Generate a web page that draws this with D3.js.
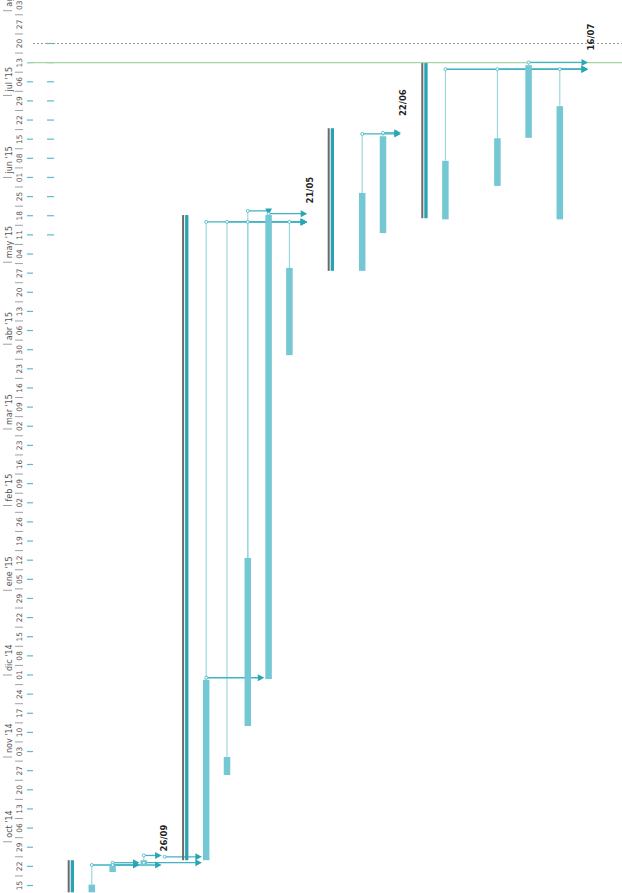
<!DOCTYPE html>
<html>
<head>
<meta charset="utf-8">
<script src="https://cdn.jsdelivr.net/npm/d3@7/dist/d3.min.js"></script>
<style>
  body { margin: 0; background: #fff; }
  svg { display: block; }
  text { font-family: "DejaVu Sans", sans-serif; }
</style>
</head>
<body>
<div id="chart"></div>
<script>
// gantt rows (the chart is turned on its side: time runs bottom -> top)
const taskIds   = ["g1","t2","t3","t4","m1","g2","t7","t8","t9","t10","t11","m2","g3","t14","t15","m3","g4","t18","t19","t20","t21","m4"];
const taskKind  = ["group","task","task","task","milestone","group","task","task","task","task","task","milestone","group","task","task","milestone","group","task","task","task","task","milestone"];
const taskRow   = [0, 2, 4, 7, 9, 11, 13, 15, 17, 19, 21, 23, 25, 28, 30, 32, 34, 36, 41, 44, 47, 50];
const taskLabel = ["","","","","26/09","","","","","","","21/05","","","","22/06","","","","","","16/07"];
const taskStart = ["2014-09-12 12:00","2014-09-12 12:00","2014-09-19 22:00","2014-09-22 02:00","2014-09-26 00:00",
                   "2014-09-24 06:00","2014-09-24 06:00","2014-10-25 10:00","2014-11-12 08:00","2014-11-29 12:00","2015-03-28 00:00","2015-05-21 00:00",
                   "2015-04-27 20:00","2015-04-27 20:00","2015-05-11 16:00","2015-06-22 00:00",
                   "2015-05-17 02:00","2015-05-16 16:00","2015-05-28 22:00","2015-06-15 12:00","2015-05-16 16:00","2015-07-16 00:00"];
const taskEnd   = ["2014-09-24 06:00","2014-09-15 08:00","2014-09-22 12:00","2014-09-24 06:00","2014-09-26 00:00",
                   "2015-05-18 06:00","2014-11-29 06:00","2014-11-01 00:00","2015-01-12 20:00","2015-05-18 06:00","2015-04-28 22:00","2015-05-21 00:00",
                   "2015-06-19 00:00","2015-05-26 08:00","2015-06-16 02:00","2015-06-22 00:00",
                   "2015-07-12 20:00","2015-06-07 02:00","2015-06-15 08:00","2015-07-12 02:00","2015-06-27 02:00","2015-07-16 00:00"];

// dependencies
const linkFrom = ["t2","t3","t3","t4","m1","t4","t7","t7","t8","t9","t11","t9","t10","t14","t15","t18","t19","t21","t20"];
const linkTo   = ["t4","t4","m1","m1","t7","t7","t10","m2","m2","m2","m2","t10","m2","m3","m3","m4","m4","m4","m4"];
const linkType = ["fs","fs","fs","fs","fs","fs","fs","fs","fs","fs","fs","ff","fs","fs","fs","fs","fs","fs","fs"];
const linkAt   = ["2014-09-22 12:00","2014-09-23 08:00","2014-09-22 12:00","2014-09-26 00:00","2014-09-25 12:00","2014-09-23 08:00",
                  "2014-11-30 00:00","2015-05-15 18:00","2015-05-15 18:00","2015-05-15 18:00","2015-05-15 18:00","2015-05-19 18:00","2015-05-18 18:00",
                  "2015-06-16 22:00","2015-06-17 08:00","2015-07-10 14:00","2015-07-10 14:00","2015-07-10 14:00","2015-07-13 02:00"];

// time axis
const monthNames = ["ene","feb","mar","abr","may","jun","jul","ago","sep","oct","nov","dic"];
const axisFrom = "2014-09-15 00:00", axisTo = "2015-07-20 00:00";
const statusDate = "2015-07-13 00:00";   // green line
const todayDate  = "2015-07-20 00:00";   // dotted line
const recentFrom = "2015-05-11 00:00";   // second column of week marks

const width = 622, height = 893;
const parse = d3.timeParse("%Y-%m-%d %H:%M");

const y = d3.scaleTime()
  .domain([parse(axisFrom), parse(axisTo)])
  .range([885.5, 43.5]);
const x = d3.scaleLinear()
  .domain([0, 50])
  .range([71, 591]);

const tasks = taskIds.map((id, i) => ({
  id, kind: taskKind[i], row: taskRow[i], label: taskLabel[i],
  start: parse(taskStart[i]), end: parse(taskEnd[i])
}));
const byId = new Map(tasks.map(d => [d.id, d]));
const links = linkFrom.map((f, i) => ({
  from: byId.get(f), to: byId.get(linkTo[i]), type: linkType[i], at: parse(linkAt[i])
}));

const svg = d3.select("#chart").append("svg")
  .attr("width", width)
  .attr("height", height);

const tTop = y.invert(0), tBottom = y.invert(height);
const mondays = d3.timeMonday.range(d3.timeMonday.offset(tBottom, -1), tTop);

// week labels + separators
const axis = svg.append("g").attr("class", "axis");
axis.selectAll("text.day")
  .data(mondays)
  .enter().append("text")
  .attr("class", "day")
  .attr("transform", d => "translate(22," + y(d) + ") rotate(-90)")
  .attr("text-anchor", "middle")
  .style("font-size", "7.5px")
  .style("fill", "#555")
  .text(d3.timeFormat("%d"));

axis.selectAll("line.wsep")
  .data(mondays)
  .enter().append("line")
  .attr("class", "wsep")
  .attr("x1", 15).attr("x2", 23)
  .attr("y1", d => y(d3.timeHour.offset(d, 84)))
  .attr("y2", d => y(d3.timeHour.offset(d, 84)))
  .style("stroke", "#888").style("stroke-width", 0.8);

// month labels
const months = d3.timeMonth.range(d3.timeMonth.ceil(tBottom), tTop);
axis.selectAll("line.msep")
  .data(months)
  .enter().append("line")
  .attr("class", "msep")
  .attr("x1", 3).attr("x2", 12)
  .attr("y1", d => y(d)).attr("y2", d => y(d))
  .style("stroke", "#888").style("stroke-width", 0.8);
axis.selectAll("text.month")
  .data(months)
  .enter().append("text")
  .attr("class", "month")
  .attr("transform", d => "translate(11.5," + (y(d) - 4) + ") rotate(-90)")
  .style("font-size", "8px")
  .style("fill", "#555")
  .text(d => monthNames[d.getMonth()] + " '" + d3.timeFormat("%y")(d));

// week marks
const marksA = d3.timeMonday.range(parse(axisFrom), d3.timeDay.offset(parse(statusDate), 1));
const marksB = d3.timeMonday.range(parse(recentFrom), d3.timeDay.offset(parse(todayDate), 1));
svg.append("g").attr("class", "marks-a").selectAll("line")
  .data(marksA)
  .enter().append("line")
  .attr("x1", 27).attr("x2", 33)
  .attr("y1", d => y(d)).attr("y2", d => y(d))
  .style("stroke", "#5bbccc").style("stroke-width", 1.2);
svg.append("g").attr("class", "marks-b").selectAll("line")
  .data(marksB)
  .enter().append("line")
  .attr("x1", 47).attr("x2", 54)
  .attr("y1", d => y(d)).attr("y2", d => y(d))
  .style("stroke", "#5bbccc").style("stroke-width", 1.2);

// status + today lines
svg.append("line")
  .attr("x1", 33).attr("x2", width)
  .attr("y1", y(parse(todayDate))).attr("y2", y(parse(todayDate)))
  .style("stroke", "#999").style("stroke-width", 1).style("stroke-dasharray", "2,2");
svg.append("line")
  .attr("x1", 27).attr("x2", width)
  .attr("y1", y(parse(statusDate))).attr("y2", y(parse(statusDate)))
  .style("stroke", "#a3d6a0").style("stroke-width", 1.2);

// links
const tipX = d => d.kind === "milestone" ? x(d.row) - 3 : x(d.row) - 4.3;
const gl = svg.append("g").attr("class", "links");
gl.selectAll("line.v")
  .data(links)
  .enter().append("line")
  .attr("class", "v")
  .attr("x1", d => x(d.from.row)).attr("x2", d => x(d.from.row))
  .attr("y1", d => y(d.from.end)).attr("y2", d => y(d.at))
  .style("stroke", "#93d5de").style("stroke-width", 1.1);
gl.selectAll("path.h")
  .data(links)
  .enter().append("path")
  .attr("class", "h")
  .attr("d", d => {
    const x0 = x(d.from.row), yy = y(d.at);
    if (d.type === "ff") {
      const xt = x(d.to.row);
      return "M" + x0 + "," + yy + "H" + xt + "V" + (y(d.to.end) - 4);
    }
    return "M" + x0 + "," + yy + "H" + (tipX(d.to) - 4);
  })
  .style("fill", "none")
  .style("stroke", "#3fb2c3").style("stroke-width", 1.3);

// bars
const bw = 6.5;
svg.append("g").selectAll("rect")
  .data(tasks.filter(d => d.kind === "task"))
  .enter().append("rect")
  .attr("x", d => x(d.row) - bw / 2)
  .attr("width", bw)
  .attr("y", d => y(d.end))
  .attr("height", d => y(d.start) - y(d.end))
  .style("fill", "#74c8d4");

const groups = svg.append("g").selectAll("g")
  .data(tasks.filter(d => d.kind === "group"))
  .enter().append("g");
groups.append("rect")
  .attr("x", d => x(d.row) - 3.3)
  .attr("width", 2)
  .attr("y", d => y(d.end))
  .attr("height", d => y(d.start) - y(d.end))
  .style("fill", "#6a6a6a");
groups.append("rect")
  .attr("x", d => x(d.row) - 0.3)
  .attr("width", 3.3)
  .attr("y", d => y(d.end))
  .attr("height", d => y(d.start) - y(d.end))
  .style("fill", "#2aa2b3");

// arrow heads + corner dots
svg.append("g").selectAll("path")
  .data(links)
  .enter().append("path")
  .attr("d", d => {
    if (d.type === "ff") {
      const tx = x(d.to.row), ty = y(d.to.end);
      return "M" + tx + "," + ty + "L" + (tx - 3.4) + "," + (ty - 6.5) + "L" + (tx + 3.4) + "," + (ty - 6.5) + "Z";
    }
    const tx = tipX(d.to), ty = y(d.at);
    return "M" + tx + "," + ty + "L" + (tx - 6.5) + "," + (ty - 3.5) + "L" + (tx - 6.5) + "," + (ty + 3.5) + "Z";
  })
  .style("fill", "#2aa5b6");

svg.append("g").selectAll("circle")
  .data(links)
  .enter().append("circle")
  .attr("cx", d => x(d.from.row))
  .attr("cy", d => y(d.at))
  .attr("r", 1.5)
  .style("fill", "#fff")
  .style("stroke", "#45b5c5").style("stroke-width", 0.8);

// milestone dates
svg.append("g").selectAll("text")
  .data(tasks.filter(d => d.kind === "milestone"))
  .enter().append("text")
  .attr("transform", d => "translate(" + (x(d.row) + 2.5) + "," + (y(d.start) - 4) + ") rotate(-90)")
  .style("font-size", "8.5px")
  .style("font-weight", "bold")
  .style("fill", "#222")
  .text(d => d.label);
</script>
</body>
</html>
